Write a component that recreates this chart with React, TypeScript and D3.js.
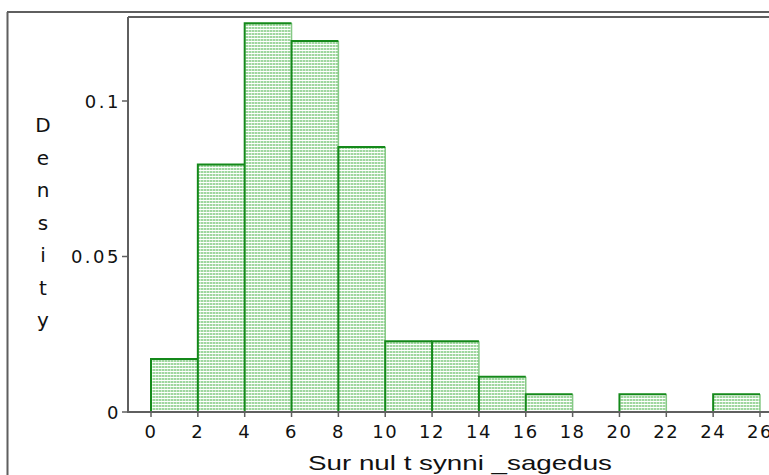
import React from "react";
import * as d3 from "d3";

// Histogram of Surnult synni_sagedus, bin width 2
const binStarts = [0, 2, 4, 6, 8, 10, 12, 14, 16, 18, 20, 22, 24];
const binCounts = [3, 14, 22, 21, 15, 4, 4, 2, 1, 0, 1, 0, 1];
const binWidth = 2;
const xTicks = [0, 2, 4, 6, 8, 10, 12, 14, 16, 18, 20, 22, 24, 26];
const yTicks = [0, 0.05, 0.1];
const yTickLabels = ["0", "0.05", "0.1"];
const xTitle = "Sur nul t synni _sagedus";
const yTitle = "Density";

const W = 769;
const H = 475;

export default function App() {
  const total = d3.sum(binCounts);
  const bins = binStarts.map((x0, i) => ({
    x0,
    x1: x0 + binWidth,
    density: binCounts[i] / (total * binWidth),
  }));

  const x = d3.scaleLinear().domain([0, 26]).range([151, 760]);
  const y = d3.scaleLinear().domain([0, 0.1]).range([412, 101]);
  const axisX = 128;
  const axisY = y(0);
  const axisColor = "#5f5f5f";
  const dark = "#14891a";
  const light = "#86c986";
  const tickFont = "'DejaVu Sans', Verdana, sans-serif";

  return (
    <svg
      width={W}
      height={H}
      style={{ position: "absolute", left: 0, top: 0, background: "#fff" }}
    >
      <defs>
        <pattern id="hatch" width="3" height="3" patternUnits="userSpaceOnUse">
          <rect x="0" y="0" width="3" height="3" fill="#ffffff" />
          <rect x="0" y="0" width="2" height="2" fill="#9fd69f" />
          <rect x="2" y="0" width="1" height="2" fill="#cfeccf" />
        </pattern>
      </defs>

      {/* outer frame */}
      <line x1={7.5} y1={12} x2={7.5} y2={H} stroke={axisColor} strokeWidth={2} />
      <line x1={7} y1={12} x2={W} y2={12} stroke={axisColor} strokeWidth={2} />

      {/* plot frame top */}
      <line x1={axisX} y1={17} x2={W} y2={17} stroke={axisColor} strokeWidth={2} />

      {/* bars */}
      {bins
        .filter((b) => b.density > 0)
        .map((b, i) => {
          const left = x(b.x0);
          const right = x(b.x1);
          const top = y(b.density);
          return (
            <g key={i}>
              <rect
                x={left}
                y={top}
                width={right - left}
                height={axisY - top}
                fill="url(#hatch)"
              />
              <line x1={right} y1={top} x2={right} y2={axisY} stroke={light} strokeWidth={1.5} />
              <path
                d={`M${left},${axisY} V${top} H${right}`}
                fill="none"
                stroke={dark}
                strokeWidth={2}
              />
            </g>
          );
        })}

      {/* y axis */}
      <line x1={axisX} y1={17} x2={axisX} y2={axisY + 1} stroke={axisColor} strokeWidth={2} />
      {yTicks.map((t, i) => (
        <g key={i}>
          <line x1={axisX - 6} y1={y(t)} x2={axisX} y2={y(t)} stroke={axisColor} strokeWidth={1.5} />
          <text
            x={axisX - 7}
            y={y(t)}
            textAnchor="end"
            dominantBaseline="central"
            fontFamily={tickFont}
            fontSize={18}
            letterSpacing={2.5}
            fill="#111"
          >
            {yTickLabels[i]}
          </text>
        </g>
      ))}

      {/* x axis */}
      <line x1={axisX} y1={axisY} x2={W} y2={axisY} stroke={axisColor} strokeWidth={2} />
      {xTicks.map((t) => (
        <g key={t}>
          <line x1={x(t)} y1={axisY} x2={x(t)} y2={axisY + 5} stroke={axisColor} strokeWidth={1.5} />
          <text
            x={x(t)}
            y={438}
            textAnchor="middle"
            fontFamily={tickFont}
            fontSize={18}
            letterSpacing={1.5}
            fill="#111"
          >
            {String(t)}
          </text>
        </g>
      ))}

      {/* axis titles */}
      <text
        x={308}
        y={470}
        fontFamily="'Liberation Sans', Arial, sans-serif"
        fontSize={21}
        textLength={304}
        lengthAdjust="spacingAndGlyphs"
        fill="#111"
      >
        {xTitle}
      </text>
      {yTitle.split("").map((ch, i) => (
        <text
          key={i}
          x={43}
          y={125 + i * 32.5}
          textAnchor="middle"
          dominantBaseline="central"
          fontFamily={tickFont}
          fontSize={20}
          fill="#111"
        >
          {ch}
        </text>
      ))}
    </svg>
  );
}
